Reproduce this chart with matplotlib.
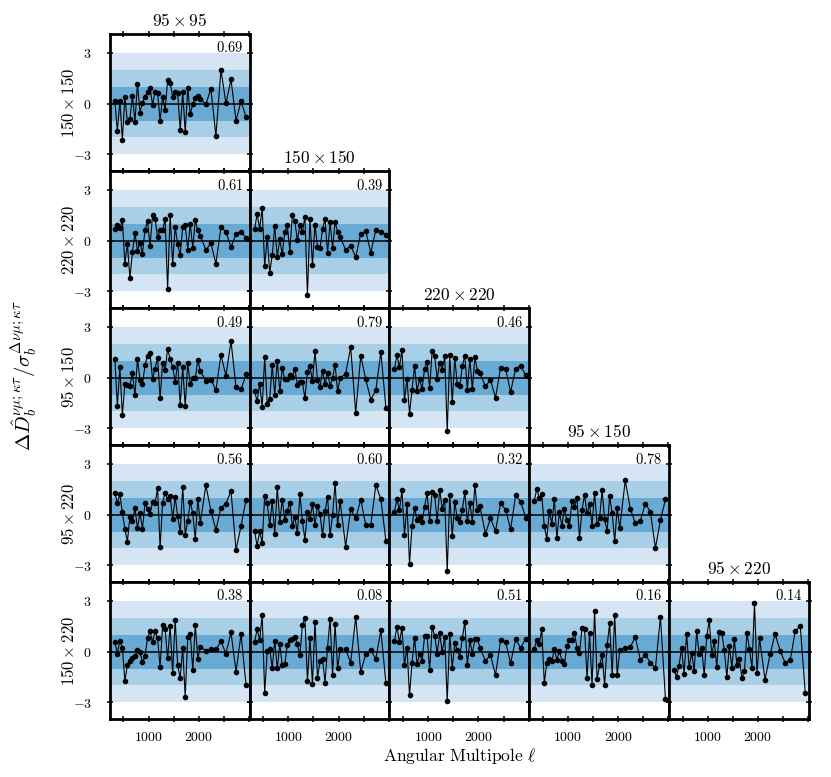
import matplotlib
matplotlib.use('Agg')
import matplotlib.pyplot as plt

plt.rcParams['mathtext.fontset'] = 'cm'
plt.rcParams['font.family'] = ['DejaVu Serif']

# multipole bin centres
ell = [330, 380, 430, 480, 530, 580, 630, 680, 730, 780, 830, 880, 930, 980,
       1030, 1080, 1130, 1180, 1230, 1280, 1330, 1380, 1430, 1480, 1530, 1580,
       1630, 1680, 1730, 1780, 1830, 1880, 1930, 1980, 2030,
       2140, 2240, 2340, 2440, 2540, 2640, 2740, 2840, 2940]

col_labels = ['95 \\times 95', '150 \\times 150', '220 \\times 220',
              '95 \\times 150', '95 \\times 220']
row_labels = ['150 \\times 150', '220 \\times 220', '95 \\times 150',
              '95 \\times 220', '150 \\times 220']

pte = [['0.69'],
       ['0.61', '0.39'],
       ['0.49', '0.79', '0.46'],
       ['0.56', '0.60', '0.32', '0.78'],
       ['0.38', '0.08', '0.51', '0.16', '0.14']]

d00 = [0.18, -1.64, 0.16, -2.13, 0.41, -1.11, -0.90, 0.47, -1.07, 1.17, -0.53, 0.06, 0.39, 0.68, 0.92,
       -0.06, 0.68, 0.64, -1.00, 0.41, -0.37, 1.39, 1.25, 0.41, 0.66, 0.62, -1.54, 0.68, -1.68, 0.92,
       -0.63, -0.02, 0.35, 0.47, 0.29, -0.04, 0.88, -1.91, 1.99, 0.02, 1.43, -1.00, 0.14, -0.80]
d10 = [0.71, 0.91, 0.75, 1.20, -1.38, -0.19, -2.22, -0.69, 0.46, -0.60, -0.11, -0.77, 0.65, 1.14, -0.32,
       1.49, 1.30, 0.19, 0.62, 0.62, 1.30, -2.84, 1.53, -1.36, 0.81, -0.22, -0.85, 0.81, 0.91, -0.54,
       0.99, -0.42, 1.20, 0.60, 0.30, -0.56, -0.15, -1.36, 0.79, 0.52, -0.38, 0.38, 0.52, 0.17]
d11 = [0.67, 1.59, 0.67, 1.94, -1.51, 0.22, -1.89, -0.87, 0.87, -0.97, 0.09, -0.79, 0.52, 0.91, -0.65,
       1.53, 1.14, 0.01, 0.91, 0.52, 1.42, -3.23, 1.26, -1.44, 0.95, -0.36, -0.44, 0.67, 1.30, -0.75,
       1.10, -0.42, 1.10, 0.52, 0.24, -0.56, -0.30, -0.97, 0.42, 0.56, -0.71, 0.63, 0.52, 0.36]
d20 = [1.12, -1.69, 0.62, -2.22, -0.36, -0.46, -0.48, 0.26, -1.03, 1.12, -0.11, -0.40, 0.73, 1.30, 1.46,
       -0.09, 0.54, 1.18, -1.22, 0.89, 0.46, 1.71, 1.10, 0.65, -0.26, 0.89, -1.61, 0.60, -1.69, 0.87,
       -0.38, -0.01, -0.05, 1.04, 0.38, -0.17, -0.11, -0.73, 1.34, 0.11, 2.16, -0.56, -0.69, 0.19]
d21 = [-0.81, -1.40, -0.36, -1.73, 1.20, -1.53, -1.24, 0.73, -1.01, 1.01, -0.81, 0.56, -0.09, -0.09, 0.15,
       0.03, 0.54, -0.46, -0.26, -0.28, -1.22, 0.36, 0.69, -0.21, 1.55, -0.11, -0.56, 0.40, -0.36, 0.28,
       -0.48, -0.01, 0.77, -0.81, -0.03, 0.24, 1.80, -2.08, 1.28, -0.09, -1.30, -0.75, 1.51, -1.77]
d22 = [0.50, 1.34, 0.62, 1.65, -1.32, -0.09, -2.14, -0.71, 0.69, -0.79, -0.09, -0.67, 0.54, 0.91, -0.63,
       1.55, 1.26, -0.07, 0.89, 0.48, 1.26, -3.17, 1.36, -1.46, 1.16, -0.40, -0.52, 0.71, 1.28, -0.71,
       1.08, -0.67, 1.20, 0.42, 0.26, -0.52, -0.13, -1.20, 0.58, 0.54, -0.85, 0.54, 0.71, 0.13]
d30 = [1.30, 0.69, 1.20, 0.13, -0.85, -1.59, -0.11, -0.40, 0.40, -0.81, 0.09, -0.85, 0.69, 0.32, 0.03,
       0.75, 0.67, 1.55, -1.94, 0.71, 1.30, 0.91, 1.12, -0.26, 1.04, -0.09, -1.04, 1.63, -1.18, -0.36,
       0.75, 0.07, -1.46, 0.93, -0.48, 1.73, 0.24, -0.91, 0.42, 0.65, 1.40, -2.08, -0.67, 0.89]
d31 = [-0.99, -1.85, -0.97, -1.69, 1.12, 0.67, -0.62, 0.79, -1.14, 1.65, -0.42, 0.87, -0.32, 0.24, 0.71,
       -0.69, -0.13, -1.08, 1.20, -0.36, -1.49, 0.15, -0.26, 0.60, -0.60, 0.52, 0.03, -1.20, 0.19, 1.06,
       -1.20, -0.01, 1.87, -0.63, 0.81, -1.89, 0.32, -0.22, 0.89, -0.63, -0.62, 1.77, 0.91, -1.53]
d32 = [0.17, 0.91, 0.26, 1.44, -1.22, 0.62, -2.90, -0.67, 0.40, -0.32, -0.13, -0.46, 0.46, 1.26, -0.40,
       1.36, 1.16, -0.40, 1.47, 0.36, 0.89, -3.35, 1.16, -1.26, 0.73, -0.21, -0.46, 0.26, 1.34, -0.40,
       0.71, -0.42, 1.73, 0.26, 0.50, -1.12, -0.22, -0.97, 0.67, 0.30, -0.87, 1.14, 0.77, -0.17]
d33 = [0.81, 1.51, 0.97, 1.20, -0.69, -1.42, 0.19, -0.54, 0.91, -1.40, 0.13, -0.67, 0.36, -0.32, -0.67,
       0.81, 0.44, 1.00, -1.40, 0.28, 1.16, 0.07, 0.62, -0.67, 1.30, -0.58, -0.19, 1.44, -0.28, -0.95,
       1.08, 0.07, -1.57, 0.38, -0.81, 2.02, 0.36, -0.52, -0.36, 0.65, 0.17, -1.98, -0.32, 0.91]
d40 = [0.58, -0.11, 0.65, 0.22, -1.75, -0.77, -0.56, -0.40, -0.28, 0.09, -0.03, -0.63, -0.28, 0.81, 1.20,
       0.58, 1.20, 0.79, -0.93, 1.55, 1.34, -0.40, 1.53, -1.28, 1.87, -0.81, -1.57, 0.21, -2.69, 0.85,
       1.06, -1.10, 1.59, -0.42, 0.30, 0.05, 0.13, 0.13, 0.60, -0.11, 1.14, -1.18, 1.03, -2.00]
d41 = [0.56, 1.34, 0.67, 2.16, -2.45, 0.05, 0.17, -0.95, 0.65, -0.99, 0.44, -0.81, -0.73, 0.40, 0.67,
       0.77, 0.87, 0.44, -0.22, 1.57, 2.00, -1.75, 0.79, -1.94, 1.77, -1.55, -0.56, -0.42, -1.83, 0.24,
       1.95, -1.38, 1.63, -0.99, 0.13, 0.13, -0.65, 2.04, -1.20, -0.15, 0.09, -0.42, 1.26, -1.85]
d42 = [0.62, 1.47, 0.56, 1.39, -0.79, 0.24, -2.59, -0.65, 0.83, -0.75, -0.11, -0.56, 0.95, 0.95, -1.10,
       1.46, 0.95, -0.13, 1.08, -0.03, 0.87, -2.92, 1.06, -0.95, 0.50, 0.09, -0.30, 0.79, 1.77, -0.79,
       0.67, -0.11, 0.73, 0.73, 0.24, -0.54, -0.19, -1.38, 0.67, 0.58, -0.69, 0.73, 0.22, 0.77]
d43 = [0.15, 0.67, 0.48, 1.32, -1.87, -0.67, -0.42, -0.58, 0.17, -0.50, 0.05, -0.54, -0.75, 0.34, 0.67,
       0.69, 1.12, 0.21, -0.09, 1.38, 1.36, -1.55, 1.08, -2.00, 2.43, -1.61, -0.81, -0.22, -1.96, 0.38,
       1.67, -1.38, 2.14, -1.40, 0.09, 0.19, 0.26, 0.87, -0.50, -0.19, -0.65, -0.97, 2.04, -2.82]
d44 = [-1.07, -1.48, -0.82, 0.19, -1.33, 1.05, -0.92, -0.06, -1.13, 1.21, -0.14, 0.23, -1.40, 0.90, 1.85,
       -0.19, 0.60, -0.88, 1.19, 1.09, 0.10, -1.50, 0.33, -0.94, 0.72, -0.76, -0.45, -1.54, -1.15, 1.13,
       0.14, -0.97, 2.87, -1.29, 0.78, -1.66, -0.16, 1.05, 0.06, -0.66, -0.51, 1.21, 1.52, -2.44]

panels = [[d00],
          [d10, d11],
          [d20, d21, d22],
          [d30, d31, d32, d33],
          [d40, d41, d42, d43, d44]]

band_colors = ['#d5e5f4', '#a9cfe6', '#69aad5']

W, H = 831, 777
left0, top0 = 109.8, 34.3
pw, ph = 139.8, 137.0

fig = plt.figure(figsize=(W / 100, H / 100), dpi=100)

for i in range(5):
    for j in range(i + 1):
        x0 = left0 + j * pw
        y0 = top0 + i * ph
        ax = fig.add_axes([x0 / W, 1 - (y0 + ph) / H, pw / W, ph / H])

        # 1, 2, 3 sigma bands
        ax.axhspan(-3, 3, color=band_colors[0], lw=0, zorder=0)
        ax.axhspan(-2, 2, color=band_colors[1], lw=0, zorder=0)
        ax.axhspan(-1, 1, color=band_colors[2], lw=0, zorder=0)
        ax.axhline(0, color='k', lw=1.1, zorder=1)

        ax.plot(ell, panels[i][j], '-o', color='k', lw=0.8, ms=3.0, zorder=2)

        ax.set_xlim(230, 3010)
        ax.set_ylim(-4.0, 4.1)
        ax.set_xticks([1000, 2000])
        ax.set_xticks([500, 1500, 2500, 3000], minor=True)
        ax.set_yticks([-3, 0, 3])
        ax.tick_params(which='both', direction='inout', top=True, right=True,
                       length=4, width=1.1, labelsize=10)
        ax.tick_params(axis='y', pad=11)
        ax.tick_params(axis='x', pad=5.5)

        if j == 0:
            ax.set_yticklabels(['$-3$', '$0$', '$3$'])
            fig.text(70 / W, 1 - (y0 + ph / 2) / H, '$' + row_labels[i] + '$',
                     rotation=90, ha='center', va='center', fontsize=12)
        else:
            ax.set_yticklabels([])
        if i == 4:
            ax.set_xticklabels(['$1000$', '$2000$'])
        else:
            ax.set_xticklabels([])
        if i == j:
            ax.set_title('$' + col_labels[j] + '$', fontsize=12.5, pad=6)

        ax.text(0.955, 0.9, '$' + pte[i][j] + '$', transform=ax.transAxes,
                ha='right', va='center', fontsize=10.5)

        for s in ax.spines.values():
            s.set_linewidth(2.0)

fig.text(460 / W, 1 - 756 / H, r'$\mathrm{Angular\ Multipole}\ \ell$',
         ha='center', va='center', fontsize=12.5)
fig.text(24 / W, 1 - 376 / H,
         r'$\Delta\hat{D}_b^{\nu\mu;\kappa\tau}/\sigma_b^{\Delta\nu\mu;\kappa\tau}$',
         rotation=90, ha='center', va='center', fontsize=15)

fig.savefig('out.png', dpi=100)
